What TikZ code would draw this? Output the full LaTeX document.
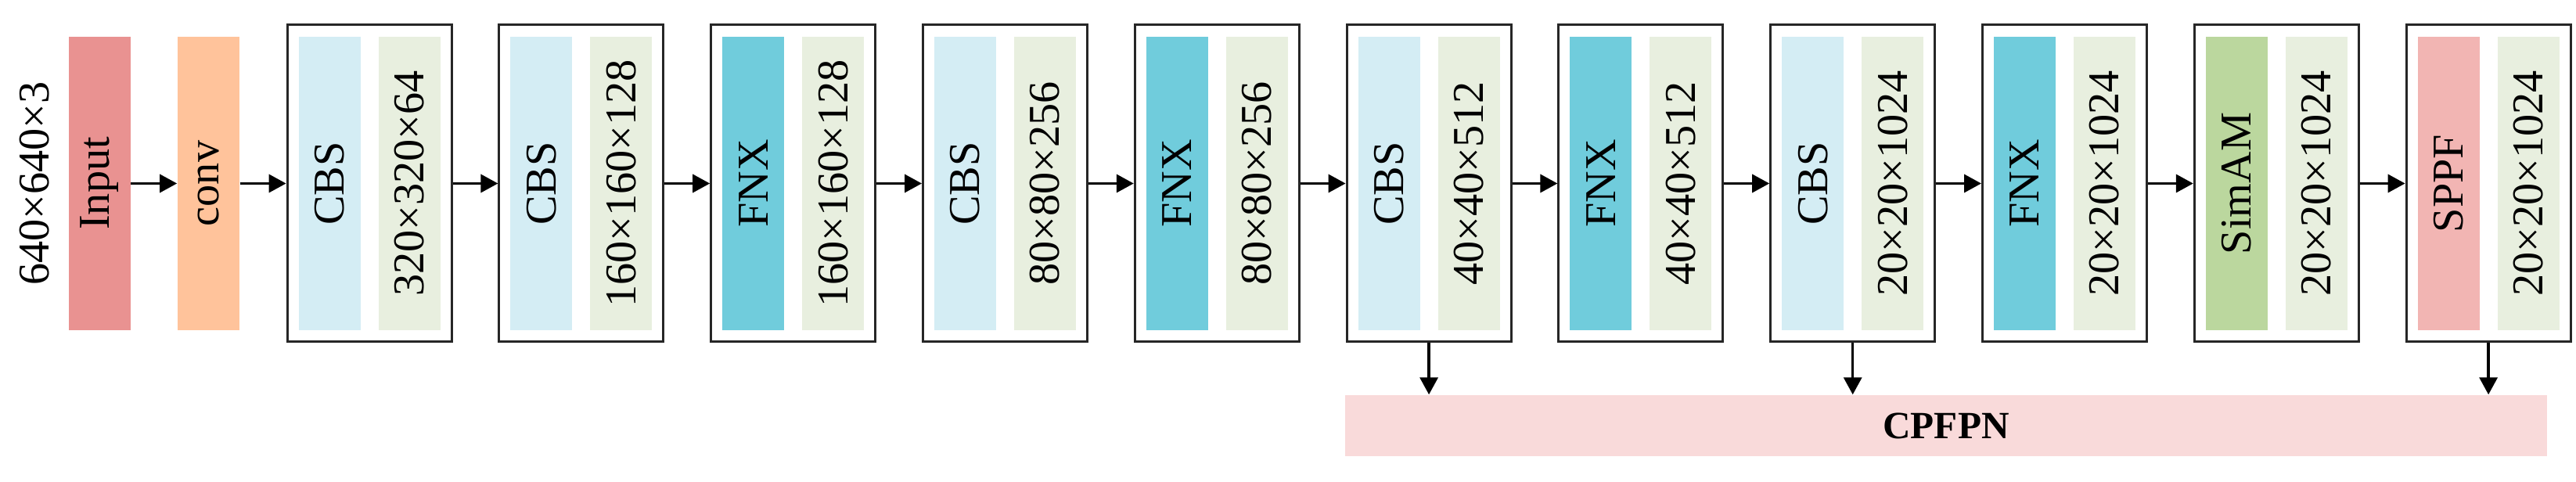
\documentclass[tikz,border=0pt]{standalone}
\usepackage{fontspec}
\setmainfont{Liberation Serif}
\usepackage{xcolor}
\usepackage{tikz}
\usetikzlibrary{positioning, arrows.meta}
\definecolor{inputred}{RGB}{233,146,145}
\definecolor{convorange}{RGB}{255,195,155}
\definecolor{cbsblue}{RGB}{212,237,244}
\definecolor{fnxcyan}{RGB}{112,204,220}
\definecolor{simamgreen}{RGB}{187,215,158}
\definecolor{sppfpink}{RGB}{242,181,179}
\definecolor{dimgreen}{RGB}{232,239,223}
\definecolor{neckpink}{RGB}{249,218,218}

\begin{document}
\begin{tikzpicture}[
    bar/.style={rectangle, inner sep=0pt, minimum width=7.9mm, minimum height=37.5mm, align=center, font=\fontsize{16}{19}\selectfont},
    stage/.style={rectangle, draw=black!85, line width=0.3mm, fill=white, minimum width=21mm, minimum height=40.5mm},
    cbsbar/.style={bar, fill=cbsblue},
    fnxbar/.style={bar, fill=fnxcyan},
    dimbar/.style={bar, fill=dimgreen},
    arr/.style={line width=0.35mm, -{Triangle[length=2.2mm, width=2.3mm]}}
]
\useasboundingbox (0,0) rectangle (329.2mm,61.6mm);

\node[bar, fill=inputred] (input) at (12.7mm,38.15mm) {\rotatebox{90}{Input}};
\node[font=\fontsize{16}{19}\selectfont] (insize) at ([xshift=-8.25mm]input.center) {\rotatebox{90}{640×640×3}};
\node[bar, fill=convorange, right=5.9mm of input] (conv) {\rotatebox{90}{conv}};

\node[stage, right=5.9mm of conv] (b1) {};
\node[stage, right=5.78mm of b1] (b2) {};
\node[stage, right=5.78mm of b2] (b3) {};
\node[stage, right=5.78mm of b3] (b4) {};
\node[stage, right=5.78mm of b4] (b5) {};
\node[stage, right=5.78mm of b5] (b6) {};
\node[stage, right=5.78mm of b6] (b7) {};
\node[stage, right=5.78mm of b7] (b8) {};
\node[stage, right=5.78mm of b8] (b9) {};
\node[stage, right=5.78mm of b9] (b10) {};
\node[stage, right=5.78mm of b10] (b11) {};

\node[cbsbar] (b1m) at ([xshift=-5.1mm]b1.center) {\rotatebox{90}{CBS}};
\node[dimbar] (b1d) at ([xshift=5.1mm]b1.center) {\rotatebox{90}{320×320×64}};
\node[cbsbar] (b2m) at ([xshift=-5.1mm]b2.center) {\rotatebox{90}{CBS}};
\node[dimbar] (b2d) at ([xshift=5.1mm]b2.center) {\rotatebox{90}{160×160×128}};
\node[fnxbar] (b3m) at ([xshift=-5.1mm]b3.center) {\rotatebox{90}{FNX}};
\node[dimbar] (b3d) at ([xshift=5.1mm]b3.center) {\rotatebox{90}{160×160×128}};
\node[cbsbar] (b4m) at ([xshift=-5.1mm]b4.center) {\rotatebox{90}{CBS}};
\node[dimbar] (b4d) at ([xshift=5.1mm]b4.center) {\rotatebox{90}{80×80×256}};
\node[fnxbar] (b5m) at ([xshift=-5.1mm]b5.center) {\rotatebox{90}{FNX}};
\node[dimbar] (b5d) at ([xshift=5.1mm]b5.center) {\rotatebox{90}{80×80×256}};
\node[cbsbar] (b6m) at ([xshift=-5.1mm]b6.center) {\rotatebox{90}{CBS}};
\node[dimbar] (b6d) at ([xshift=5.1mm]b6.center) {\rotatebox{90}{40×40×512}};
\node[fnxbar] (b7m) at ([xshift=-5.1mm]b7.center) {\rotatebox{90}{FNX}};
\node[dimbar] (b7d) at ([xshift=5.1mm]b7.center) {\rotatebox{90}{40×40×512}};
\node[cbsbar] (b8m) at ([xshift=-5.1mm]b8.center) {\rotatebox{90}{CBS}};
\node[dimbar] (b8d) at ([xshift=5.1mm]b8.center) {\rotatebox{90}{20×20×1024}};
\node[fnxbar] (b9m) at ([xshift=-5.1mm]b9.center) {\rotatebox{90}{FNX}};
\node[dimbar] (b9d) at ([xshift=5.1mm]b9.center) {\rotatebox{90}{20×20×1024}};
\node[bar, fill=simamgreen] (b10m) at ([xshift=-5.1mm]b10.center) {\rotatebox{90}{SimAM}};
\node[dimbar] (b10d) at ([xshift=5.1mm]b10.center) {\rotatebox{90}{20×20×1024}};
\node[bar, fill=sppfpink] (b11m) at ([xshift=-5.1mm]b11.center) {\rotatebox{90}{SPPF}};
\node[dimbar] (b11d) at ([xshift=5.1mm]b11.center) {\rotatebox{90}{20×20×1024}};

% neck
\node[rectangle, fill=neckpink, minimum width=153.6mm, minimum height=7.8mm, inner sep=0pt,
      font=\fontsize{14}{17}\selectfont\bfseries] (cpfpn) at (248.7mm,7.2mm) {CPFPN};

\draw[arr] (input) -- (conv);
\draw[arr] (conv) -- (b1);
\draw[arr] (b1) -- (b2);
\draw[arr] (b2) -- (b3);
\draw[arr] (b3) -- (b4);
\draw[arr] (b4) -- (b5);
\draw[arr] (b5) -- (b6);
\draw[arr] (b6) -- (b7);
\draw[arr] (b7) -- (b8);
\draw[arr] (b8) -- (b9);
\draw[arr] (b9) -- (b10);
\draw[arr] (b10) -- (b11);

\draw[arr] (b6.south) -- (b6.south |- cpfpn.north);
\draw[arr] (b8.south) -- (b8.south |- cpfpn.north);
\draw[arr] (b11.south) -- (b11.south |- cpfpn.north);
\end{tikzpicture}
\end{document}
